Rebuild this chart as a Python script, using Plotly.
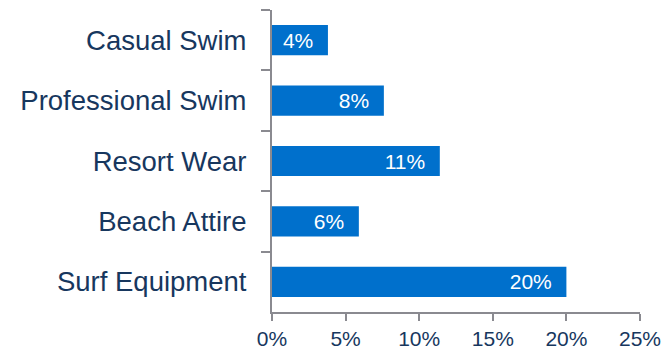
import plotly.graph_objects as go

categories = ["Casual Swim", "Professional Swim", "Resort Wear", "Beach Attire", "Surf Equipment"]
shares = [0.038, 0.076, 0.114, 0.059, 0.200]
x_ticks = [0, 0.05, 0.10, 0.15, 0.20, 0.25]
x_tick_labels = ["0%", "5%", "10%", "15%", "20%", "25%"]

BAR_BLUE = "#0070CC"
NAVY = "#17375E"
AXIS_GREY = "#8A8A90"

fig = go.Figure(
    go.Bar(
        x=shares,
        y=categories,
        orientation="h",
        marker=dict(color=BAR_BLUE, line=dict(width=0)),
        # trailing spaces give the label some room from the bar end
        text=[f"{v:.0%}  " for v in shares],
        textposition="inside",
        insidetextanchor="end",
        textfont=dict(family="Liberation Sans, Arial", size=21, color="white"),
        hoverinfo="skip",
    )
)

fig.update_layout(
    width=671,
    height=348,
    margin=dict(l=272, r=31, t=10, b=36),
    paper_bgcolor="white",
    plot_bgcolor="white",
    bargap=0.5,
    showlegend=False,
    font=dict(family="Liberation Sans, Arial", color=NAVY),
)

fig.update_xaxes(
    range=[0, 0.25],
    tickvals=x_ticks,
    ticktext=x_tick_labels,
    tickfont=dict(size=21, color=NAVY),
    automargin=False,
    showgrid=False,
    zeroline=False,
    showline=True,
    linecolor=AXIS_GREY,
    linewidth=2,
    ticks="outside",
    ticklen=7,
    tickwidth=2,
    tickcolor=AXIS_GREY,
)

fig.update_yaxes(
    autorange="reversed",
    tickfont=dict(size=27.5, color=NAVY),
    automargin=False,
    ticklabelstandoff=18,
    showgrid=False,
    showline=True,
    linecolor=AXIS_GREY,
    linewidth=2,
    ticks="outside",
    tickson="boundaries",
    ticklen=9,
    tickwidth=2,
    tickcolor=AXIS_GREY,
)

# the page's default body margin pushes the figure 8px off the window
fig.write_html(
    "out.html",
    config={"displayModeBar": False},
    post_script="document.body.style.margin = '0';",
)
